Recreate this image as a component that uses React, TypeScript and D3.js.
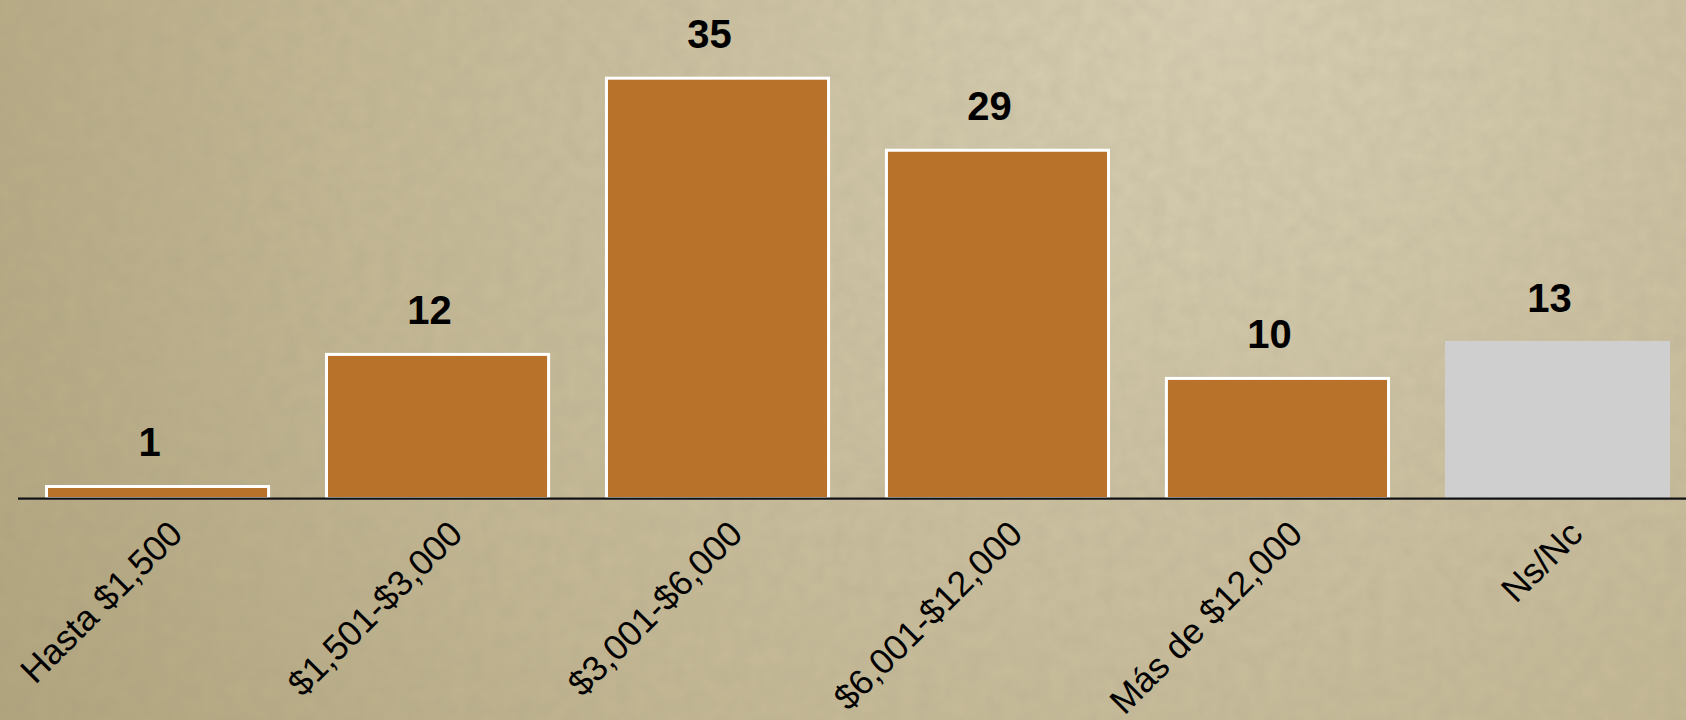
import React from "react";
import * as d3 from "d3";

const categories = ["Hasta $1,500", "$1,501-$3,000", "$3,001-$6,000", "$6,001-$12,000", "Más de $12,000", "Ns/Nc"];
const values = [1, 12, 35, 29, 10, 13];
const barColors = ["#b87229", "#b87229", "#b87229", "#b87229", "#b87229", "#cfcfcf"];
const strokeColors = ["#ffffff", "#ffffff", "#ffffff", "#ffffff", "#ffffff", "#cfcfcf"];

const W = 1686;
const H = 720;

export default function App() {
  const x = d3.scaleBand<string>().domain(categories).range([45, 1670]).paddingInner(0.196).paddingOuter(0);
  const y = d3.scaleLinear().domain([0, 35]).range([498.5, 78.2]);
  const bw = x.bandwidth();
  const sw = 3;
  return (
    <svg width={W} height={H} style={{ position: "absolute", left: 0, top: 0, display: "block" }}
      fontFamily="'Liberation Sans', Arial, sans-serif">
      <defs>
        <radialGradient id="bg" cx="0.72" cy="0.0" r="1.05" gradientUnits="objectBoundingBox"
          gradientTransform="translate(0.72,0) scale(1,2.3) translate(-0.72,0)">
          <stop offset="0" stopColor="#d9d0b4" />
          <stop offset="0.5" stopColor="#c4b894" />
          <stop offset="1" stopColor="#a6996f" />
        </radialGradient>
        <filter id="noise" x="0" y="0" width="100%" height="100%">
          <feTurbulence type="fractalNoise" baseFrequency="0.06" numOctaves="3" seed="4" result="t" />
          <feColorMatrix type="matrix" values="0 0 0 0 0.3  0 0 0 0 0.27  0 0 0 0 0.2  0 0 0 0.18 0" />
        </filter>
      </defs>
      <rect x={0} y={0} width={W} height={H} fill="url(#bg)" />
      <rect x={0} y={0} width={W} height={H} filter="url(#noise)" />
      {categories.map((c, i) => (
        <rect key={c} x={(x(c) as number) + sw / 2} y={y(values[i])} width={bw - sw}
          height={y(0) - y(values[i])} fill={barColors[i]} stroke={strokeColors[i]} strokeWidth={sw} />
      ))}
      <line x1={18} x2={W} y1={499.5} y2={499.5} stroke="#6f6f6f" strokeWidth={1} />
      <line x1={18} x2={W} y1={498.5} y2={498.5} stroke="#111" strokeWidth={2} />
      {categories.map((c, i) => (
        <text key={"v" + c} x={(x(c) as number) + bw / 2 - 8} y={y(values[i]) - 30.5}
          textAnchor="middle" fontSize={40} fontWeight="bold" fill="#000">{values[i]}</text>
      ))}
      {categories.map((c) => {
        const ax = (x(c) as number) + bw / 2 + 27;
        const ay = 536;
        return (
          <text key={"c" + c} x={ax} y={ay} transform={`rotate(-45 ${ax} ${ay})`}
            textAnchor="end" fontSize={35.5} fill="#000">{c}</text>
        );
      })}
    </svg>
  );
}
